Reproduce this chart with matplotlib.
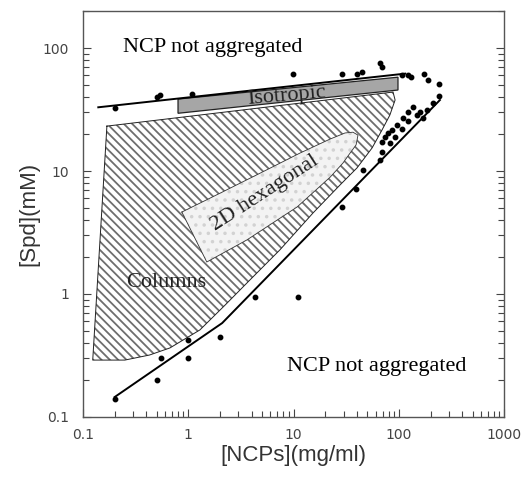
import numpy as np
import matplotlib
matplotlib.use('Agg')
import matplotlib.pyplot as plt
from matplotlib.patches import Polygon
from matplotlib.ticker import LogLocator, NullFormatter, FuncFormatter

# measured points [NCPs](mg/ml) vs [Spd](mM)
ncp_pts = [0.2, 0.5, 0.55, 1.0, 1.0, 2.0, 4.3, 11,
           0.2, 0.5, 0.54, 1.08, 9.9, 28.8, 40, 44.7, 66, 69,
           107, 122, 130, 173, 189, 240, 240, 211, 185, 158, 149, 136,
           122, 109, 122, 96, 107, 86, 79, 74, 69, 92, 82, 69, 66,
           45.6, 39, 28.8, 170]
spd_pts = [0.14, 0.2, 0.3, 0.42, 0.3, 0.45, 0.95, 0.95,
           32.5, 40, 41.5, 42, 61.5, 61.5, 61.5, 63.8, 75.5, 70,
           60, 60, 58, 61.5, 55, 51, 41, 35.7, 31.3, 30.2, 28.5, 33,
           30.2, 27, 25.5, 23.7, 21.9, 21.5, 20.4, 18.9, 17.2, 18.9, 16.9, 14.3, 12.3,
           10.2, 7.1, 5.1, 27]

# upper boundary line
upper_x = [0.14, 115]
upper_y = [33, 62]

# lower boundary line
lower_x = [0.2, 2.1, 245]
lower_y = [0.145, 0.58, 37.8]

# isotropic band
iso_x = [0.80, 98, 98, 0.80]
iso_y = [38.5, 58, 45.6, 29.5]

# columns region
col_x = [0.169, 88, 92, 82, 69, 55.6, 40, 27.6, 15.3, 7.4, 3.85, 2.23,
         1.29, 0.67, 0.43, 0.25, 0.124]
col_y = [23.2, 43.9, 37.8, 28.5, 21.5, 15.4, 10.6, 7.7, 4.56, 2.28, 1.30, 0.81,
         0.51, 0.364, 0.319, 0.29, 0.29]

# 2D hexagonal region
hex_x = [0.87, 2.0, 4.8, 11.5, 22.2, 30.8, 36.6, 40.9, 39.2, 34.4, 29.4,
         22.2, 10.8, 3.6, 1.5]
hex_y = [4.64, 6.6, 9.6, 14.0, 18.2, 20.4, 20.7, 19.6, 16.3, 14.0, 11.6,
         8.9, 5.1, 2.75, 1.82]

plt.rcParams['hatch.linewidth'] = 1.3
serif = 'Liberation Serif'

fig = plt.figure(figsize=(5.28, 4.82), dpi=100)
ax = fig.add_axes([0.157, 0.135, 0.798, 0.842])
ax.set_xscale('log')
ax.set_yscale('log')
ax.set_xlim(0.1, 1000)
ax.set_ylim(0.1, 200)

cols = Polygon(list(zip(col_x, col_y)), closed=True, facecolor='white',
               edgecolor='#6e6e6e', hatch='\\\\\\\\', linewidth=0, zorder=1)
ax.add_patch(cols)
ax.plot(col_x + col_x[:1], col_y + col_y[:1], color='#222222', lw=0.7, zorder=1.5)

hexa = Polygon(list(zip(hex_x, hex_y)), closed=True, facecolor='#f3f3f3',
               edgecolor='#d2d2d2', hatch='..', linewidth=0, zorder=2)
ax.add_patch(hexa)
ax.plot(hex_x + hex_x[:1], hex_y + hex_y[:1], color='#333333', lw=0.6, zorder=2.5)

iso = Polygon(list(zip(iso_x, iso_y)), closed=True, facecolor='#a6a6a6',
              edgecolor='#222222', linewidth=0.9, zorder=3)
ax.add_patch(iso)

ax.plot(upper_x, upper_y, color='black', lw=1.4, zorder=4)
ax.plot(lower_x, lower_y, color='black', lw=1.4, zorder=4)
ax.plot(ncp_pts, spd_pts, 'o', color='black', ms=3.2, zorder=5)

ax.text(0.24, 102, 'NCP not aggregated', family=serif, fontsize=16, ha='left', va='center')
ax.text(8.65, 0.255, 'NCP not aggregated', family=serif, fontsize=16, ha='left', va='center')
ax.text(0.26, 1.23, 'Columns', family=serif, fontsize=16, ha='left', va='center', color='#222222')
ax.text(5.35, 6.6, '2D hexagonal', family=serif, fontsize=16, ha='center', va='center',
        rotation=33, color='#222222')
ax.text(8.65, 40.8, 'Isotropic', family=serif, fontsize=16, ha='center', va='center',
        rotation=5, color='#222222', zorder=6)

fmt = FuncFormatter(lambda v, p: ('%g' % v))
for axis in (ax.xaxis, ax.yaxis):
    axis.set_major_locator(LogLocator(base=10, numticks=10))
    axis.set_minor_locator(LogLocator(base=10, subs=np.arange(2, 10), numticks=10))
    axis.set_minor_formatter(NullFormatter())
    axis.set_major_formatter(fmt)
ax.set_xticks([0.1, 1, 10, 100, 1000])
ax.set_yticks([0.1, 1, 10, 100])
ax.tick_params(which='both', direction='in', right=True, top=False,
               labelsize=10, labelcolor='#444444', color='#444444')
ax.tick_params(which='major', length=6, width=0.8)
ax.tick_params(which='minor', length=4, width=0.8)
ax.tick_params(axis='x', pad=8)
ax.tick_params(axis='y', pad=10)
for s in ax.spines.values():
    s.set_color('#555555')
    s.set_linewidth(1.0)

ax.set_xlabel('[NCPs](mg/ml)', fontsize=16, color='#333333', labelpad=2,
              family='Liberation Sans')
ax.set_ylabel('[Spd](mM)', fontsize=16, color='#333333', labelpad=2,
              family='Liberation Sans')

fig.savefig('out.png', dpi=100)
